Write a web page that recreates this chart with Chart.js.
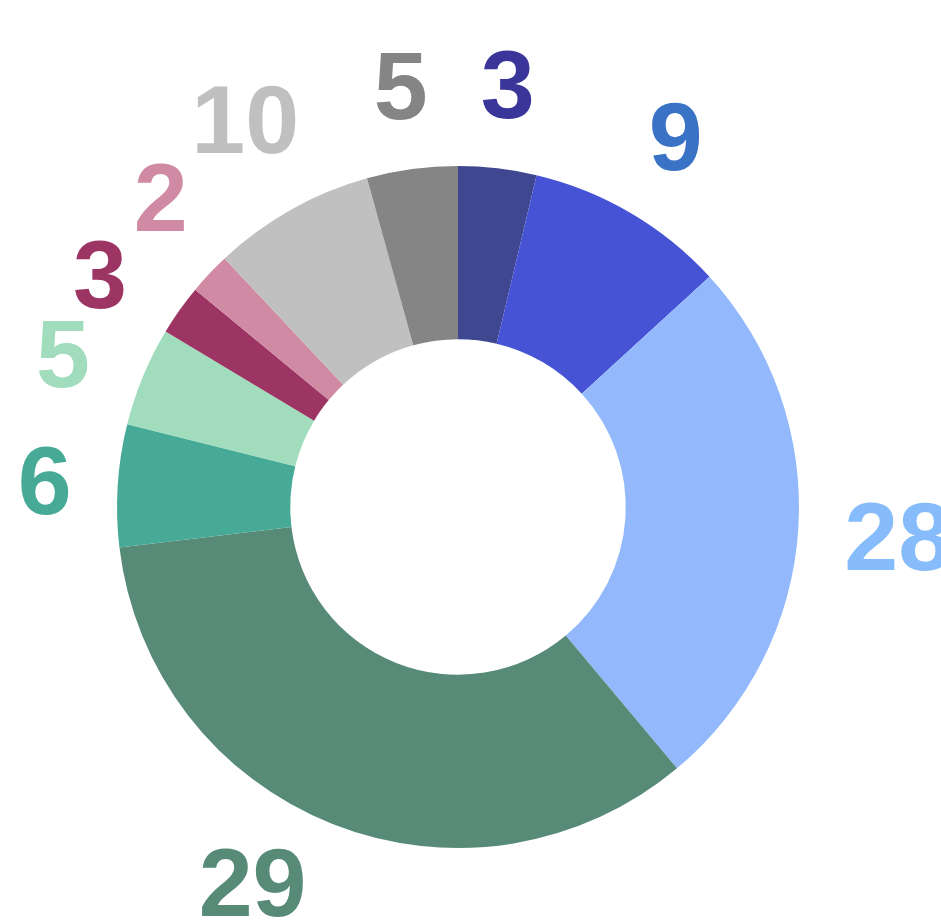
<!DOCTYPE html>
<html>
<head>
<meta charset="utf-8">
<script src="https://cdn.jsdelivr.net/npm/chart.js@4/dist/chart.umd.min.js"></script>
<style>
  html, body { margin: 0; padding: 0; background: #ffffff; }
  #wrap { width: 941px; height: 920px; position: relative; }
</style>
</head>
<body>
<div id="wrap"><canvas id="c" width="941" height="920"></canvas></div>
<script>
// Slice shares (angular extent of each slice, in %)
const categories = ["A", "B", "C", "D", "E", "F", "G", "H", "I", "J"];
const sliceValues = [3.7, 9.5, 25.7, 34.2, 5.8, 4.7, 2.4, 2.0, 7.7, 4.3];
// Numbers printed next to each slice
const labelTexts = ["3", "9", "28", "29", "6", "5", "3", "2", "10", "5"];
const sliceColors = ["#3f4790", "#4553d4", "#93b9fc", "#578b78", "#46aa97",
                     "#a1dcbc", "#9c3564", "#d08aa3", "#c0c0c0", "#858585"];
const labelColors = ["#3a3598", "#3a72c6", "#86bcfb", "#578b78", "#46aa97",
                     "#a1dcbc", "#9c3564", "#d08aa3", "#c0c0c0", "#858585"];

const outsideLabels = {
  id: 'outsideLabels',
  afterDatasetsDraw(chart) {
    const ctx = chart.ctx;
    const meta = chart.getDatasetMeta(0);
    const H = chart.height;
    ctx.save();
    ctx.font = 'bold 97px "Liberation Sans", Arial, sans-serif';
    ctx.textAlign = 'center';
    ctx.textBaseline = 'alphabetic';
    const items = meta.data.map((arc, i) => {
      const p = arc.getProps(['x', 'y', 'startAngle', 'endAngle', 'outerRadius'], true);
      const m = ctx.measureText(labelTexts[i]);
      return {
        p, m,
        ang: (p.startAngle + p.endAngle) / 2,
        a: (m.actualBoundingBoxLeft + m.actualBoundingBoxRight) / 2,
        b: (m.actualBoundingBoxAscent + m.actualBoundingBoxDescent) / 2
      };
    });
    function place(it) {
      const R = it.p.outerRadius + 47;
      const ux = Math.cos(it.ang), uy = Math.sin(it.ang);
      const d = R + it.a * Math.abs(ux) + it.b * Math.abs(uy);
      let cx = it.p.x + d * ux;
      let cy = it.p.y + d * uy;
      if (cy + it.b > H - 3) {
        cy = H - 3 - it.b;
        const dd = R + 40;
        const dy = cy - it.p.y;
        const dx = Math.sqrt(Math.max(dd * dd - dy * dy, 0));
        cx = it.p.x + (ux < 0 ? -dx : dx);
      }
      it.cx = cx; it.cy = cy;
    }
    const pad = 12;
    function overlap(u, v) {
      const gx = Math.abs(u.cx - v.cx) - (u.a + v.a);
      const gy = Math.abs(u.cy - v.cy) - (u.b + v.b);
      return gx < pad && gy < pad;
    }
    for (let iter = 0; iter < 300; iter++) {
      items.forEach(place);
      let moved = false;
      for (let i = 0; i < items.length; i++) {
        const j = (i + 1) % items.length;
        if (overlap(items[i], items[j])) {
          items[i].ang -= 0.002;
          items[j].ang += 0.002;
          moved = true;
        }
      }
      if (!moved) break;
    }
    items.forEach(place);
    items.forEach((it, i) => {
      const ink = (it.m.actualBoundingBoxRight - it.m.actualBoundingBoxLeft) / 2;
      ctx.fillStyle = labelColors[i];
      ctx.fillText(labelTexts[i], it.cx - ink, it.cy + it.m.actualBoundingBoxAscent - it.b);
    });
    ctx.restore();
  }
};

new Chart(document.getElementById('c'), {
  type: 'doughnut',
  data: {
    labels: categories,
    datasets: [{
      data: sliceValues,
      backgroundColor: sliceColors,
      borderWidth: 0
    }]
  },
  options: {
    responsive: false,
    animation: false,
    cutout: '49.2%',
    layout: { padding: { left: 117, right: 142, top: 165, bottom: 71 } },
    plugins: {
      legend: { display: false },
      tooltip: { enabled: false }
    }
  },
  plugins: [outsideLabels]
});
</script>
</body>
</html>
